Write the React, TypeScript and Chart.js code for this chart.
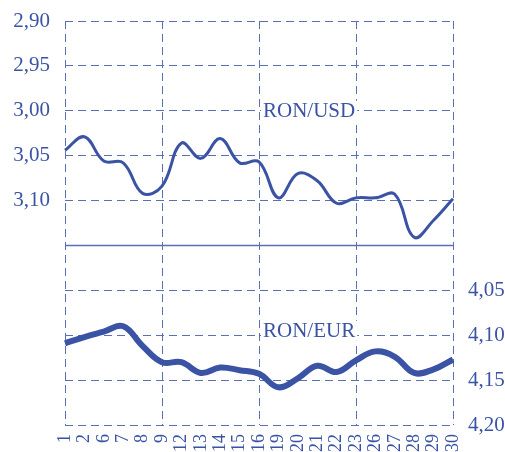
import React, { useEffect, useRef } from "react";
import { Chart, registerables } from "chart.js";

Chart.register(...registerables);

const days = ["1", "2", "6", "7", "8", "9", "12", "13", "14", "15", "16", "19", "20", "21", "22", "23", "26", "27", "28", "29", "30"];
const ronUsd = [3.044, 3.029, 3.056, 3.058, 3.092, 3.084, 3.036, 3.053, 3.031, 3.058, 3.057, 3.097, 3.070, 3.078, 3.103, 3.097, 3.097, 3.093, 3.141, 3.122, 3.098];
const ronEur = [4.109, 4.102, 4.096, 4.090, 4.112, 4.130, 4.130, 4.142, 4.136, 4.139, 4.143, 4.158, 4.148, 4.134, 4.141, 4.128, 4.118, 4.124, 4.142, 4.138, 4.127];
const usdTicks = [2.9, 2.95, 3.0, 3.05, 3.1];
const eurTicks = [4.05, 4.1, 4.15, 4.2];
const usdRange = [2.9, 3.35];
const eurRange = [3.75, 4.2];
const usdLabel = "RON/USD";
const eurLabel = "RON/EUR";

const BLUE = "#3a53a4";
const GRID = "#5b6fb4";
const FONT = "'Liberation Serif', 'Times New Roman', serif";

const has = (list: number[], v: number) => list.some((t) => Math.abs(t - v) < 1e-6);
const fmt = (v: number) => v.toFixed(2).replace(".", ",");

const overlay = {
  id: "overlay",
  beforeDatasetsDraw(chart: any) {
    const { ctx, chartArea, scales } = chart;
    const yL = scales.y;
    const yR = scales.y2;
    const x = scales.x;
    ctx.save();
    const ySep = yL.getPixelForValue(3.15);
    ctx.strokeStyle = GRID;
    ctx.lineWidth = 1.5;
    ctx.setLineDash([]);
    ctx.beginPath();
    ctx.moveTo(chartArea.left, ySep);
    ctx.lineTo(chartArea.right, ySep);
    ctx.stroke();
    ctx.font = `21px ${FONT}`;
    ctx.textBaseline = "middle";
    ctx.textAlign = "left";
    const lx = x.getPixelForValue(10) + 4;
    const drawLabel = (text: string, y: number) => {
      const w = ctx.measureText(text).width;
      ctx.fillStyle = "#ffffff";
      ctx.fillRect(lx - 2, y - 10, w + 4, 20);
      ctx.fillStyle = BLUE;
      ctx.fillText(text, lx, y + 1);
    };
    drawLabel(usdLabel, yL.getPixelForValue(3.0));
    drawLabel(eurLabel, yR.getPixelForValue(4.095));
    ctx.restore();
  },
};

export default function App() {
  const ref = useRef<HTMLCanvasElement>(null);
  useEffect(() => {
    if (!ref.current) return;
    const chart = new Chart(ref.current, {
      type: "line",
      data: {
        labels: days,
        datasets: [
          {
            label: usdLabel,
            data: ronUsd,
            yAxisID: "y",
            borderColor: BLUE,
            borderWidth: 3,
            pointRadius: 0,
            tension: 0.4,
            fill: false,
          },
          {
            label: eurLabel,
            data: ronEur,
            yAxisID: "y2",
            borderColor: BLUE,
            borderWidth: 6,
            pointRadius: 0,
            tension: 0.4,
            fill: false,
          },
        ],
      },
      options: {
        animation: false,
        responsive: true,
        maintainAspectRatio: false,
        layout: { padding: { top: 21, left: 0, right: 0, bottom: 0 } },
        plugins: { legend: { display: false }, tooltip: { enabled: false }, title: { display: false } },
        scales: {
          x: {
            offset: false,
            border: { display: false, dash: [8, 5] },
            grid: {
              drawTicks: false,
              lineWidth: 1,
              color: (c: any) => (c.index % 5 === 0 ? GRID : "rgba(0,0,0,0)"),
            },
            ticks: {
              autoSkip: false,
              maxRotation: 90,
              minRotation: 90,
              padding: 9,
              color: BLUE,
              font: { family: FONT, size: 18 },
            },
            afterFit: (s: any) => {
              s.height = 27;
              s.paddingLeft = 0;
              s.paddingRight = 0;
            },
          },
          y: {
            position: "left",
            reverse: true,
            min: usdRange[0],
            max: usdRange[1],
            border: { display: false, dash: [8, 5] },
            grid: {
              drawTicks: false,
              lineWidth: 1,
              color: (c: any) => (c.tick && has(usdTicks, c.tick.value) ? GRID : "rgba(0,0,0,0)"),
            },
            ticks: {
              stepSize: 0.05,
              padding: 15,
              color: BLUE,
              font: { family: FONT, size: 21 },
              callback: (v: any) => (has(usdTicks, Number(v)) ? fmt(Number(v)) : ""),
            },
            afterFit: (s: any) => {
              s.width = 65;
              s.paddingTop = 0;
              s.paddingBottom = 0;
            },
          },
          y2: {
            position: "right",
            reverse: true,
            min: eurRange[0],
            max: eurRange[1],
            border: { display: false, dash: [8, 5] },
            grid: {
              drawTicks: false,
              lineWidth: 1,
              color: (c: any) => (c.tick && has(eurTicks, c.tick.value) ? GRID : "rgba(0,0,0,0)"),
            },
            ticks: {
              stepSize: 0.05,
              padding: 15,
              color: BLUE,
              font: { family: FONT, size: 21 },
              callback: (v: any) => (has(eurTicks, Number(v)) ? fmt(Number(v)) : ""),
            },
            afterFit: (s: any) => {
              s.width = 52;
              s.paddingTop = 0;
              s.paddingBottom = 0;
            },
          },
        },
      },
      plugins: [overlay],
    });
    return () => chart.destroy();
  }, []);
  return (
    <div style={{ position: "absolute", left: 0, top: 0, width: 505, height: 452 }}>
      <canvas ref={ref} />
    </div>
  );
}
